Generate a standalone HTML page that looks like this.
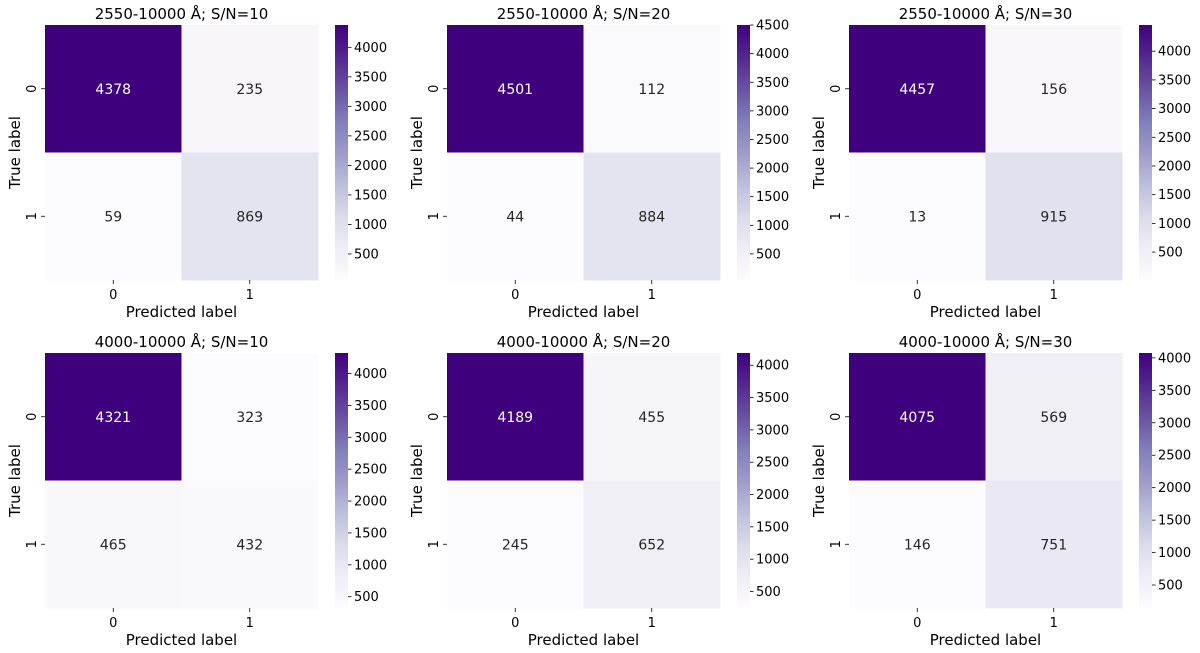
<!DOCTYPE html>
<html><head><meta charset="utf-8"><style>
body{margin:0;background:#fff;}
svg{display:block;font-family:"DejaVu Sans","Liberation Sans",sans-serif;}
</style></head><body>
<svg id="fig" width="1200" height="653" viewBox="0 0 1200 653" xmlns="http://www.w3.org/2000/svg">
<defs>
<linearGradient id="purples" x1="0" y1="1" x2="0" y2="0">
<stop offset="0" stop-color="#fcfbfd"/><stop offset="0.125" stop-color="#efedf5"/><stop offset="0.25" stop-color="#dadaeb"/><stop offset="0.375" stop-color="#bcbddc"/><stop offset="0.5" stop-color="#9e9ac8"/><stop offset="0.625" stop-color="#807dba"/><stop offset="0.75" stop-color="#6a51a3"/><stop offset="0.875" stop-color="#54278f"/><stop offset="1" stop-color="#3f007d"/>
</linearGradient>
</defs>
</svg>
<script>
const panelTitles = ["2550-10000 Å; S/N=10","2550-10000 Å; S/N=20","2550-10000 Å; S/N=30","4000-10000 Å; S/N=10","4000-10000 Å; S/N=20","4000-10000 Å; S/N=30"];
const panel1Values = [[4378,235],[59,869]];
const panel2Values = [[4501,112],[44,884]];
const panel3Values = [[4457,156],[13,915]];
const panel4Values = [[4321,323],[465,432]];
const panel5Values = [[4189,455],[245,652]];
const panel6Values = [[4075,569],[146,751]];
const classLabels = ["0","1"];
const allValues = [panel1Values,panel2Values,panel3Values,panel4Values,panel5Values,panel6Values];

const stops=[[252,251,253],[239,237,245],[218,218,235],[188,189,220],[158,154,200],[128,125,186],[106,81,163],[84,39,143],[63,0,125]];
function cmap(t){t=Math.max(0,Math.min(1,t));const p=t*8,i=Math.min(7,Math.floor(p)),f=p-i;
 const c=stops[i].map((v,k)=>Math.round(v+(stops[i+1][k]-v)*f));return c;}
const NS="http://www.w3.org/2000/svg";
const svg=document.getElementById('fig');
function mk(tag,attrs,parent,text){const e=document.createElementNS(NS,tag);for(const k in attrs)e.setAttribute(k,attrs[k]);if(text!==undefined)e.textContent=text;(parent||svg).appendChild(e);return e;}

const colX=[45,447,849], rowY=[25,353], W=273, H=255;
allValues.forEach((vals,p)=>{
 const x0=colX[p%3], y0=rowY[Math.floor(p/3)];
 const flat=vals.flat(), mn=Math.min(...flat), mx=Math.max(...flat);
 const g=mk('g',{});
 
 
 const xs=c=>x0+c*W/2, ys=r=>y0+r*H/2;
 const t=mk('text',{x:x0+W/2,y:y0-6,'text-anchor':'middle','font-size':15,fill:'#000'},g,panelTitles[p]);
 
 
 vals.forEach((row,r)=>row.forEach((v,c)=>{
  const col=cmap((v-mn)/(mx-mn));
  const rc=mk('rect',{x:xs(c),y:ys(r),width:W/2+0.5,height:H/2+0.5,fill:`rgb(${col})`},g);
  
  
  const lum=0.2126*col[0]+0.7152*col[1]+0.0722*col[2];
  const tx=mk('text',{x:xs(c)+W/4,y:ys(r)+H/4+5,'text-anchor':'middle','font-size':14,fill:lum<140?'#fff':'#262626'},g,String(v));
  
  
 }));
 classLabels.forEach((l,i)=>{
  mk('line',{x1:xs(i)+W/4,x2:xs(i)+W/4,y1:y0+H,y2:y0+H+4,stroke:'#000','stroke-width':0.8},g);
  const xt=mk('text',{x:xs(i)+W/4,y:y0+H+19,'text-anchor':'middle','font-size':13},g,l);
  
  
  mk('line',{x1:x0-4,x2:x0,y1:ys(i)+H/4,y2:ys(i)+H/4,stroke:'#000','stroke-width':0.8},g);
  const yy=ys(i)+H/4, xx=x0-9;
  const yt=mk('text',{x:xx,y:yy,'text-anchor':'middle','font-size':13,transform:`rotate(-90 ${xx} ${yy})`},g,l);
  
  
 });
 const xl=mk('text',{x:x0+W/2,y:y0+H+37,'text-anchor':'middle','font-size':15},g,'Predicted label');
 
 
 const lx=x0-25, ly=y0+H/2;
 const yl=mk('text',{x:lx,y:ly,'text-anchor':'middle','font-size':15,transform:`rotate(-90 ${lx} ${ly})`},g,'True label');
 
 
 const cbx=x0+290, cbw=13;
 const cb=mk('rect',{x:cbx,y:y0,width:cbw,height:H,fill:'url(#purples)'},g);
 
 
 const cy=v=>y0+H-(v-mn)/(mx-mn)*H;
 for(let v=Math.ceil(mn/500)*500; v<=mx; v+=500){
  mk('line',{x1:cbx+cbw,x2:cbx+cbw+3.5,y1:cy(v),y2:cy(v),stroke:'#000','stroke-width':0.8},g);
  const ct=mk('text',{x:cbx+cbw+6,y:cy(v)+4.5,'font-size':13},g,String(v));
  
  
 }
});
</script>
</body></html>
